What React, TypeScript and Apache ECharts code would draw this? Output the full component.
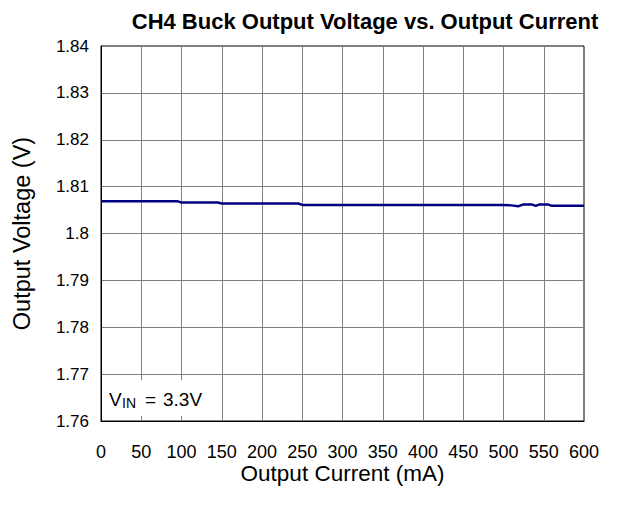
import React, { useEffect, useRef } from "react";
import * as echarts from "echarts";

const TITLE = "CH4 Buck Output Voltage vs. Output Current";
const X_NAME = "Output Current (mA)";
const Y_NAME = "Output Voltage (V)";

const currentMA = [0, 95, 100, 145, 150, 245, 250, 500, 510, 518, 525, 535, 540, 545, 555, 560, 600];
const voltageV = [1.8069, 1.8069, 1.8066, 1.8066, 1.8064, 1.8064, 1.8061, 1.8061, 1.806, 1.8058, 1.8062, 1.8062, 1.8059, 1.8062, 1.8062, 1.8059, 1.8059];

const X_MIN = 0, X_MAX = 600, X_STEP = 50;
const Y_MIN = 1.76, Y_MAX = 1.84, Y_STEP = 0.01;

const FONT = "Arial, 'Liberation Sans', Helvetica, sans-serif";

export default function App() {
  const ref = useRef<HTMLDivElement>(null);
  useEffect(() => {
    if (!ref.current) return;
    const chart = echarts.init(ref.current, null, { renderer: "svg" });
    const data = currentMA.map((c, i) => [c, voltageV[i]]);
    chart.setOption({
      animation: false,
      backgroundColor: "#fff",
      textStyle: { fontFamily: FONT },
      title: {
        text: TITLE,
        left: 360,
        textAlign: "center",
        top: 5,
        textStyle: { fontFamily: FONT, fontSize: 22, fontWeight: "bold", color: "#000" },
      },
      grid: {
        left: 101,
        right: 34,
        top: 46,
        bottom: 85,
        show: true,
        borderColor: "#000",
        borderWidth: 1,
        backgroundColor: "transparent",
      },
      xAxis: {
        type: "value",
        min: X_MIN,
        max: X_MAX,
        interval: X_STEP,
        name: X_NAME,
        nameLocation: "middle",
        nameGap: 41,
        nameMoveOverlap: false,
        nameTextStyle: { fontFamily: FONT, fontSize: 22.5, color: "#000" },
        axisLine: { show: true, lineStyle: { color: "#000", width: 1 } },
        axisTick: { show: false },
        axisLabel: { fontFamily: FONT, fontSize: 18, color: "#000", margin: 22 },
        splitLine: { show: true, showMinLine: false, showMaxLine: false, lineStyle: { color: "#808080", width: 1 } },
      },
      yAxis: {
        type: "value",
        min: Y_MIN,
        max: Y_MAX,
        interval: Y_STEP,
        name: Y_NAME,
        nameLocation: "middle",
        nameGap: 67,
        nameMoveOverlap: false,
        nameTextStyle: { fontFamily: FONT, fontSize: 23.5, color: "#000" },
        axisLine: { show: true, lineStyle: { color: "#000", width: 1 } },
        axisTick: { show: false },
        axisLabel: {
          fontFamily: FONT,
          fontSize: 17,
          color: "#000",
          margin: 12,
          formatter: (v: number) => String(parseFloat(v.toFixed(2))),
        },
        splitLine: { show: true, showMinLine: false, showMaxLine: false, lineStyle: { color: "#808080", width: 1 } },
      },
      graphic: [
        { type: "rect", shape: { x: 102, y: 380, width: 112, height: 36 }, style: { fill: "#fff" }, z: 10 },
        { type: "text", x: 109, y: 399, style: { text: "V", fontFamily: FONT, fontSize: 19, fill: "#000", verticalAlign: "middle" }, z: 11 },
        { type: "text", x: 122, y: 403, style: { text: "IN", fontFamily: FONT, fontSize: 14, fill: "#000", verticalAlign: "middle" }, z: 11 },
        { type: "text", x: 145, y: 399, style: { text: "=", fontFamily: FONT, fontSize: 19, fill: "#000", verticalAlign: "middle" }, z: 11 },
        { type: "text", x: 163, y: 399, style: { text: "3.3V", fontFamily: FONT, fontSize: 19, fill: "#000", verticalAlign: "middle" }, z: 11 },
      ],
      series: [
        {
          type: "line",
          data,
          showSymbol: false,
          lineStyle: { color: "#000080", width: 2.5 },
          z: 5,
        },
      ],
    });
    return () => chart.dispose();
  }, []);
  return <div ref={ref} style={{ width: 618, height: 506, margin: -8 }} />;
}
